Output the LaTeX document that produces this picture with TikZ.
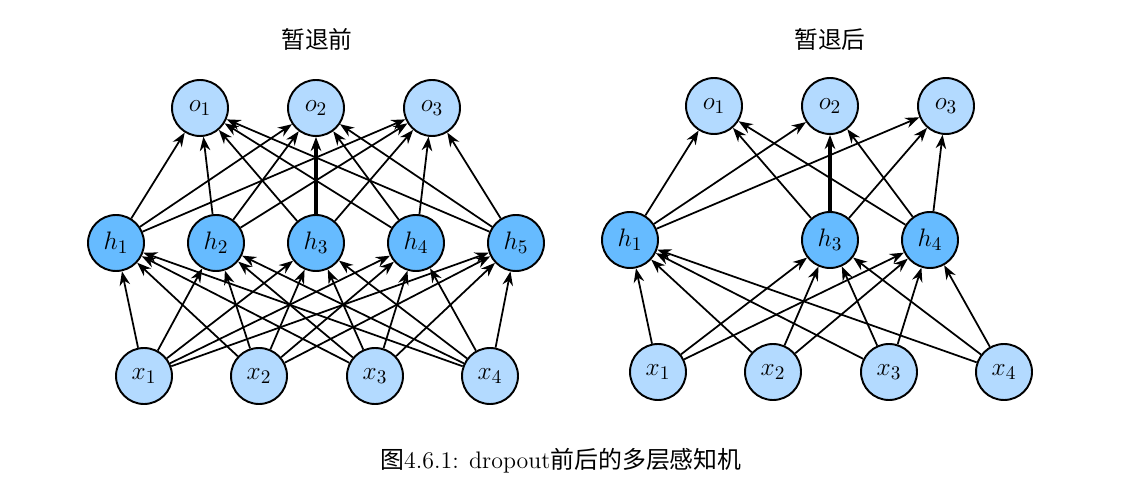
\documentclass[tikz,border=0pt]{standalone}
\usepackage{fontspec}
\newfontfamily\cjk{Noto Sans CJK SC}
\usetikzlibrary{arrows.meta}
\definecolor{lightb}{HTML}{B3DAFF}
\definecolor{darkb}{HTML}{66BBFF}
\tikzset{
  neuron/.style={circle,draw=black,line width=1.1pt,minimum size=1.12cm,inner sep=0pt,font=\fontsize{15}{17}\selectfont},
  inout/.style={neuron,fill=lightb},
  hid/.style={neuron,fill=darkb},
  arr/.style={-{Stealth[length=8pt,width=6pt]},line width=1pt},
  thickarr/.style={arr,line width=2.2pt},
  ttl/.style={font=\cjk\fontsize{13.5}{15}\selectfont},
}
\begin{document}
\begin{tikzpicture}[x=0.02cm,y=-0.02cm]
\useasboundingbox (0,0) rectangle (1125,499);
% ---------- left network ----------
\node[ttl] (tl) at (317,39) {暂退前};
\foreach \i/\x in {1/200,2/316,3/432} \node[inout] (lo\i) at (\x,108) {$o_{\i}$};
\foreach \i/\x in {1/116,2/216,3/316,4/416,5/516} \node[hid] (lh\i) at (\x,243) {$h_{\i}$};
\foreach \i/\x in {1/144,2/259,3/375,4/490} \node[inout] (lx\i) at (\x,376) {$x_{\i}$};
\foreach \a in {1,...,4} \foreach \b in {1,...,5} \draw[arr] (lx\a) -- (lh\b);
\foreach \a in {1,2,4,5} \foreach \b in {1,2,3} \draw[arr] (lh\a) -- (lo\b);
\draw[arr] (lh3) -- (lo1);
\draw[thickarr] (lh3) -- (lo2);
\draw[arr] (lh3) -- (lo3);
% ---------- right network ----------
\node[ttl] (tr) at (830,39) {暂退后};
\foreach \i/\x in {1/714,2/830,3/946} \node[inout] (ro\i) at (\x,106) {$o_{\i}$};
\foreach \i/\x in {1/630,3/830,4/930} \node[hid] (rh\i) at (\x,240) {$h_{\i}$};
\foreach \i/\x in {1/658,2/773,3/889,4/1004} \node[inout] (rx\i) at (\x,372) {$x_{\i}$};
\foreach \a in {1,...,4} \foreach \b in {1,3,4} \draw[arr] (rx\a) -- (rh\b);
\foreach \a in {1,4} \foreach \b in {1,2,3} \draw[arr] (rh\a) -- (ro\b);
\draw[arr] (rh3) -- (ro1);
\draw[thickarr] (rh3) -- (ro2);
\draw[arr] (rh3) -- (ro3);
% ---------- caption ----------
\node[font=\fontsize{13.6}{16}\selectfont] (cap) at (561,461) {{\cjk 图}4.6.1: dropout{\cjk 前后的多层感知机}};
\end{tikzpicture}
\end{document}
